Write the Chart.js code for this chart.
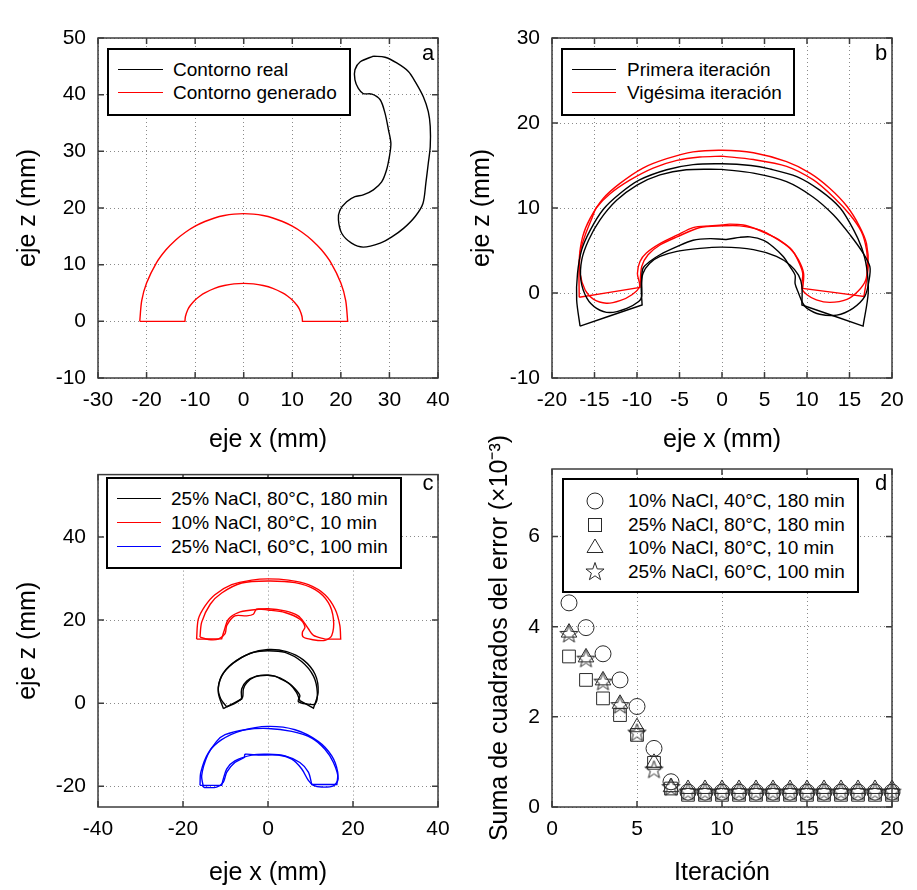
<!DOCTYPE html>
<html lang="es">
<head>
<meta charset="UTF-8">
<title>Contornos y error por iteración</title>
<script src="https://cdn.jsdelivr.net/npm/chart.js"></script>
<style>
    body {
        margin: 0;
        background: #fff;
        font-family: 'Liberation Sans', Arial, sans-serif;
    }
    #fig {
        position: relative;
        width: 917px;
        height: 890px;
        overflow: hidden;
    }
    canvas {
        position: absolute;
    }
    .legend {
        position: absolute;
        box-sizing: border-box;
        border: 2px solid #000;
        background: #fff;
    }
    .legend .sw {
        position: absolute;
        height: 0;
        border-top: 1.5px solid;
    }
    .legend .tx {
        position: absolute;
        font-size: 19px;
        line-height: 22px;
        white-space: nowrap;
        color: #000;
    }
    .legend svg {
        position: absolute;
    }
    .letter {
        position: absolute;
        font-size: 22px;
        line-height: 22px;
        transform: translate(-50%, -50%);
    }
</style>
</head>
<body>
<div id="fig">
    <canvas id="cA" width="460" height="455" style="left:0;top:0"></canvas>
    <canvas id="cB" width="457" height="455" style="left:460px;top:0"></canvas>
    <canvas id="cC" width="460" height="440" style="left:0;top:450px"></canvas>
    <canvas id="cD" width="457" height="470" style="left:460px;top:420px"></canvas>
    <div class="letter" style="left:428px;top:53px">a</div>
    <div class="letter" style="left:881px;top:53px">b</div>
    <div class="letter" style="left:428px;top:483px">c</div>
    <div class="letter" style="left:881px;top:483px">d</div>
</div>
<script>
// ---- a: contorno real vs generado ----
const aTicksX = [-30, -20, -10, 0, 10, 20, 30, 40];
const aTicksZ = [-10, 0, 10, 20, 30, 40, 50];
const aLabels = ['Contorno real', 'Contorno generado'];
const aRealX = [26.7, 29.1, 31.5, 33.9, 35.3, 37.0, 38.0, 38.4, 38.4, 38.0, 37.5, 36.9, 35.3, 32.9, 30.5, 28.1, 24.6, 22.2, 20.2, 19.5,
                19.8, 21.2, 22.9, 24.6, 26.7, 28.4, 29.4, 30.0, 30.3, 29.8, 29.1, 28.1, 26.4, 24.6, 23.6, 22.9, 22.9, 24.0, 26.7];
const aRealZ = [46.8, 46.6, 45.6, 44.1, 42.3, 39.6, 37.0, 34.4, 30.8, 27.9, 24.4, 20.8, 18.5, 16.4, 14.9, 13.8, 13.1, 13.8, 15.5, 17.9,
                19.6, 21.1, 22.0, 22.3, 23.2, 24.6, 26.7, 29.1, 31.4, 33.8, 36.7, 39.1, 40.1, 40.2, 41.1, 42.6, 44.4, 45.8, 46.8];
const aGenX = [-21.4, -21.4, -21, -20, -18, -16, -14, -12, -10, -8, -6, -4, -2, 0, 2, 4, 6, 8, 10, 12, 14, 16, 18, 20, 21, 21.4, 21.4,
               12.1, 12.1, 12, 11.5, 11, 10, 9, 8, 6, 4, 2, 0, -2, -4, -6, -8, -9, -10, -11, -11.5, -12, -12.1, -12.1, -21.4];
const aGenZ = [0, 0, 3.66, 6.76, 10.28, 12.62, 14.37, 15.73, 16.80, 17.62, 18.24, 18.67, 18.92, 19, 18.92, 18.67, 18.24, 17.62, 16.80,
               15.73, 14.37, 12.62, 10.28, 6.76, 3.66, 0, 0, 0, 0, 0.86, 2.08, 2.79, 3.77, 4.48, 5.03, 5.82, 6.32, 6.61, 6.7, 6.61,
               6.32, 5.82, 5.03, 4.48, 3.77, 2.79, 2.08, 0.86, 0, 0, 0];

// ---- b: primera y vigésima iteración ----
const bTicksX = [-20, -15, -10, -5, 0, 5, 10, 15, 20];
const bTicksZ = [-10, 0, 10, 20, 30];
const bLabels = ['Primera iteración', 'Vigésima iteración'];
const bGen1X = [-16.7, -16.7, -17.1, -17.0, -16.5, -15.5, -14.0, -12.0, -9.7, -6.5, -3.4, 0, 3.4, 5.6, 8.8, 11.5, 13.9, 15.5, 16.4, 17.0,
                17.2, 16.6, 16.6, 9.4, 9.4, 9.4, 9.0, 8.0, 6.4, 3.7, 0, -2.6, -5.3, -7.3, -8.5, -9.3, -9.5, -9.4, -9.4, -16.7];
const bGen1Z = [-3.9, -3.9, -0.8, 2.3, 5.1, 7.4, 9.8, 11.7, 13.3, 14.5, 15.1, 15.2, 15.0, 14.6, 13.7, 12.1, 10.0, 7.4, 5.4, 3.1,
                0.0, -3.9, -3.9, -1.4, -1.4, 0.8, 2.1, 3.3, 4.3, 5.1, 5.4, 5.25, 4.9, 4.3, 3.5, 2.3, 0.8, -1.4, -1.4, -3.9];
const bReal1X = [0, 3.7, 7.6, 10.7, 13.1, 15.1, 16.6, 17.4, 17.3, 16.8, 15.4, 13.5, 11.5, 10.0, 9.5, 9.0, 8.6, 8.6, 8.0, 7.2, 6.0, 4.9,
                 3.3, 2.1, 0.5, -1.4, -3.4, -5.3, -7.3, -8.5, -9.3, -9.45, -9.45, -9.8, -11.2, -13.2, -14.75, -15.9, -16.6, -16.5,
                 -15.7, -14.35, -12.4, -10.0, -7.3, -4.2, 0];
const bReal1Z = [14.55, 14.1, 13.1, 11.3, 9.2, 6.8, 4.7, 3.1, 1.5, -0.4, -1.8, -2.6, -2.5, -1.8, -1.2, 0.0, 1.1, 2.1, 3.1, 4.3, 5.45,
                 6.2, 6.6, 6.55, 6.3, 6.4, 6.2, 5.45, 4.5, 3.7, 2.9, 1.5, -0.4, -1.0, -1.8, -2.3, -1.8, -0.6, 1.5, 3.9, 6.2, 8.6,
                 10.9, 12.7, 13.9, 14.5, 14.55];
const bGen20X = [-16.8, -16.8, -16.8, -16.4, -15.5, -14.0, -12.0, -9.3, -6.5, -3.4, 0, 3.7, 7.6, 10.35, 12.7, 14.7, 16.2, 17.0, 17.2,
                 16.7, 16.7, 9.5, 9.5, 9.6, 9.0, 8.0, 6.4, 4.5, 2.1, 0, -2.6, -5.3, -7.3, -8.7, -9.45, -9.65, -9.65, -16.8];
const bGen20Z = [-0.5, -0.5, 3.9, 6.6, 8.8, 11.1, 12.9, 14.7, 15.8, 16.6, 16.8, 16.5, 15.45, 14.1, 12.3, 10.2, 7.8, 5.8, 3.1,
                 -0.4, -0.4, 0.55, 0.55, 2.3, 3.9, 5.25, 6.4, 7.4, 7.9, 7.9, 7.7, 6.6, 5.65, 4.5, 3.1, 0.65, 0.65, -0.5];
const bReal20X = [0, 3.7, 7.6, 10.75, 13.1, 15.06, 16.4, 17.0, 17.1, 16.9, 16.0, 14.7, 12.7, 11.1, 10.0, 9.4, 9.5, 9.0, 8.2, 6.8,
                  5.65, 4.1, 2.5, 0.9, 0, -1.4, -3.4, -5.3, -7.3, -8.9, -9.65, -9.95, -9.7, -10.6, -12.0, -13.6, -15.1, -16.1,
                  -16.7, -16.7, -16.1, -15.3, -14.8, -13.2, -10.8, -8.1, -5.3, -2.6, 0];
const bReal20Z = [16.1, 15.7, 14.9, 13.3, 11.3, 9.2, 7.2, 5.1, 3.1, 1.5, 0.2, -0.75, -1.1, -0.8, -0.2, 0.55, 2.3, 3.7, 5.1, 6.2,
                  6.8, 7.5, 8.0, 8.1, 8.0, 7.9, 7.7, 6.8, 5.8, 4.7, 3.7, 2.3, 0.75, -0.2, -0.9, -1.2, -0.75, 0.35, 2.3, 4.7,
                  6.8, 8.8, 10.0, 11.65, 13.3, 14.7, 15.6, 16.0, 16.1];

// ---- c: tres tratamientos ----
const cTicksX = [-40, -20, 0, 20, 40];
const cTicksZ = [-20, 0, 20, 40];
const cLabels = ['25% NaCl, 80°C, 180 min', '10% NaCl, 80°C, 10 min', '25% NaCl, 60°C, 100 min'];
const cRedAX = [-16.8, -16.8, -16.4, -14.8, -12.5, -8.55, -3.84, 0, 4.8, 9.5, 13.4, 15.8, 16.9, 17.1, 17.1, 13.4, 13.4, 10.7, 9.5,
                8.7, 7.1, 4.0, 0, -3.8, -7.0, -9.3, -10.3, -10.9, -10.9, -16.8];
const cRedAZ = [15.4, 15.4, 20.2, 23.4, 26.1, 28.5, 29.6, 29.9, 29.6, 28.5, 26.1, 22.6, 18.7, 15.4, 15.4, 15.4, 15.4, 16.3, 17.9,
                19.1, 21.0, 22.2, 22.7, 22.4, 21.8, 20.2, 17.5, 15.5, 15.5, 15.4];
const cRedBX = [-16.0, -15.6, -13.6, -10.9, -6.2, 0, 6.35, 11.1, 14.2, 15.4, 15.0, 13.4, 10.3, 8.3, 8.1, 8.7, 7.5, 4.0, 0, -2.7,
                -3.45, -5.0, -7.8, -9.7, -10.1, -11.7, -14.0, -16.0];
const cRedBZ = [15.9, 19.5, 23.8, 26.5, 28.9, 29.4, 29.0, 27.3, 24.2, 20.2, 16.3, 15.1, 15.3, 15.9, 17.1, 18.3, 20.2, 21.8, 22.4,
                22.6, 21.4, 21.0, 21.0, 18.7, 16.7, 15.4, 15.3, 15.9];
const cBlkAX = [-10.5, -10.5, -11.7, -10.9, -8.2, -4.2, 0, 4.4, 8.3, 11.1, 11.8, 10.7, 10.7, 7.5, 7.5, 6.7, 5.2, 2.8, 0, -2.7,
                -5.0, -6.2, -6.2, -6.2, -10.5];
const cBlkAZ = [-1.3, -1.3, 2.6, 6.5, 9.6, 12.0, 12.9, 12.4, 10.4, 6.9, 2.6, -1.2, -1.2, 0.6, 0.6, 2.6, 4.5, 6.1, 6.7, 6.5,
                5.3, 3.4, 1.0, 1.0, -1.3];
const cBlkBX = [-9.7, -11.1, -11.7, -10.5, -7.4, -3.45, 0, 4.0, 7.9, 10.7, 11.6, 11.1, 9.1, 7.1, 7.5, 6.4, 4.8, 2.8, 1.6, -0.3,
                -3.1, -5.0, -5.8, -6.0, -7.4, -9.7];
const cBlkBZ = [-0.9, 1.0, 3.8, 7.3, 10.3, 12.2, 12.6, 12.2, 10.0, 6.5, 2.6, -0.2, -0.2, 0.4, 1.8, 3.4, 4.9, 5.9, 6.5, 6.7,
                6.3, 4.9, 3.4, 1.4, 0.2, -0.9];
const cBluAX = [-16.0, -16.0, -15.8, -14.0, -10.9, -6.2, 0, 6.35, 11.8, 15.0, 16.4, 16.2, 16.2, 10.3, 10.3, 9.5, 7.5, 4.0, 0,
                -3.8, -7.8, -9.7, -10.5, -10.9, -10.9, -16.0];
const cBluAZ = [-19.8, -19.8, -16.6, -11.9, -8.8, -6.6, -5.6, -6.4, -9.2, -12.7, -16.6, -19.6, -19.6, -19.6, -19.6, -16.6, -14.3,
                -12.7, -12.3, -12.5, -13.9, -15.8, -18.2, -19.8, -19.8, -19.8];
const cBluBX = [-15.2, -15.6, -14.2, -12.1, -10.1, -5.4, 0, 5.6, 10.3, 13.4, 15.4, 16.5, 15.4, 12.6, 10.7, 9.5, 7.9, 5.6, 2.4,
                -2.3, -5.4, -5.6, -7.8, -9.7, -10.5, -12.1, -14.8, -15.2];
const cBluBZ = [-20.2, -17.4, -12.5, -9.2, -7.6, -6.4, -6.1, -6.8, -8.4, -11.1, -14.3, -18.2, -19.9, -20.2, -19.8, -18.6, -15.8,
                -13.5, -12.5, -12.5, -12.3, -13.1, -14.3, -16.6, -19.0, -20.2, -20.3, -20.2];

// ---- d: suma de cuadrados del error (x10^-3) ----
const dTicksX = [0, 5, 10, 15, 20];
const dTicksY = [0, 2, 4, 6];
const dLabels = ['10% NaCl, 40°C, 180 min', '25% NaCl, 80°C, 180 min', '10% NaCl, 80°C, 10 min', '25% NaCl, 60°C, 100 min'];
const iteraciones = [1, 2, 3, 4, 5, 6, 7, 8, 9, 10, 11, 12, 13, 14, 15, 16, 17, 18, 19, 20];
const dCirculo   = [4.53, 3.98, 3.40, 2.82, 2.23, 1.30, 0.56, 0.33, 0.33, 0.33, 0.33, 0.33, 0.33, 0.33, 0.33, 0.33, 0.33, 0.33, 0.33, 0.33];
const dCuadrado  = [3.34, 2.82, 2.41, 2.04, 1.60, 0.98, 0.41, 0.27, 0.27, 0.27, 0.27, 0.27, 0.27, 0.27, 0.27, 0.27, 0.27, 0.27, 0.27, 0.27];
const dTriangulo = [3.87, 3.32, 2.81, 2.29, 1.77, 0.98, 0.44, 0.40, 0.40, 0.40, 0.40, 0.40, 0.40, 0.40, 0.40, 0.40, 0.40, 0.40, 0.40, 0.40];
const dEstrella  = [3.83, 3.28, 2.77, 2.25, 1.64, 0.82, 0.43, 0.33, 0.33, 0.33, 0.33, 0.33, 0.33, 0.33, 0.33, 0.33, 0.33, 0.33, 0.33, 0.33];

const NEGRO = '#000000', ROJO = '#ff0000', AZUL = '#0000ff', GRIS = '#2a2a2a';

Chart.defaults.font.family = "'Liberation Sans', Arial, sans-serif";
Chart.defaults.color = '#000';

function pts(xs, ys) {
    return xs.map((x, i) => ({ x: x, y: ys[i] }));
}

function contorno(xs, ys, color) {
    return { data: pts(xs, ys), showLine: true, borderColor: color, borderWidth: 1.4,
             pointRadius: 0, tension: 0.3, fill: false };
}

// 5-point star drawn once, used as pointStyle
function estrella(r, color) {
    const c = document.createElement('canvas');
    const s = Math.ceil(2 * r + 4);
    c.width = c.height = s;
    const g = c.getContext('2d');
    g.strokeStyle = color;
    g.lineWidth = 1;
    g.beginPath();
    for (let i = 0; i < 10; i++) {
        const rad = i % 2 ? r * 0.4 : r;
        const ang = -Math.PI / 2 + i * Math.PI / 5;
        const px = s / 2 + rad * Math.cos(ang), py = s / 2 + rad * Math.sin(ang);
        if (i) g.lineTo(px, py); else g.moveTo(px, py);
    }
    g.closePath();
    g.stroke();
    return c;
}

function marcador(ys, style, radius) {
    return { data: pts(iteraciones, ys), showLine: false, pointStyle: style, pointRadius: radius,
             pointBorderColor: GRIS, pointBackgroundColor: 'rgba(0,0,0,0)', pointBorderWidth: 1, clip: false };
}

function eje(min, max, ticks, title, pos, size, tickPad, titlePad) {
    return {
        type: 'linear', position: pos, min: min, max: max,
        afterBuildTicks: s => { s.ticks = ticks.map(v => ({ value: v })); },
        afterFit: s => { if (pos === 'left') s.width = size; else s.height = size; },
        ticks: { color: '#000', font: { size: 21 }, padding: tickPad, maxRotation: 0, autoSkip: false },
        grid: { color: '#8a8a8a', lineWidth: 1, drawTicks: false },
        border: { display: false, dash: [1, 3] },
        title: { display: true, text: title, color: '#000', font: { size: 25 }, padding: titlePad }
    };
}

// frame round the plot area, ticks pointing inward on all four sides
const marco = {
    id: 'marco',
    afterDatasetsDraw(chart) {
        const { ctx, chartArea: a, scales } = chart;
        ctx.save();
        ctx.strokeStyle = '#3c3c3c';
        ctx.lineWidth = 1.5;
        ctx.beginPath();
        scales.x.ticks.forEach(t => {
            const px = scales.x.getPixelForValue(t.value);
            ctx.moveTo(px, a.bottom); ctx.lineTo(px, a.bottom - 6);
            ctx.moveTo(px, a.top); ctx.lineTo(px, a.top + 6);
        });
        scales.y.ticks.forEach(t => {
            const py = scales.y.getPixelForValue(t.value);
            ctx.moveTo(a.left, py); ctx.lineTo(a.left + 6, py);
            ctx.moveTo(a.right, py); ctx.lineTo(a.right - 6, py);
        });
        ctx.stroke();
        ctx.strokeRect(a.left, a.top, a.right - a.left, a.bottom - a.top);
        ctx.restore();
    }
};

function grafico(id, datasets, x, y, pad) {
    return new Chart(document.getElementById(id), {
        type: 'scatter',
        data: { datasets: datasets },
        options: {
            responsive: false,
            animation: false,
            devicePixelRatio: 1,
            layout: { padding: pad },
            scales: { x: x, y: y },
            plugins: { legend: { display: false }, tooltip: { enabled: false } }
        },
        plugins: [marco]
    });
}

const fig = document.getElementById('fig');

// HTML legend box: box = [left, top, right, bottom], rows start at y0 every dy
function leyenda(box, y0, dy, sw, txX, items) {
    const el = document.createElement('div');
    el.className = 'legend';
    el.style.left = box[0] + 'px';
    el.style.top = box[1] + 'px';
    el.style.width = (box[2] - box[0]) + 'px';
    el.style.height = (box[3] - box[1]) + 'px';
    items.forEach((it, i) => {
        const cy = y0 + i * dy - box[1] - 2;
        if (it.svg) {
            const s = document.createElementNS('http://www.w3.org/2000/svg', 'svg');
            s.setAttribute('width', 24); s.setAttribute('height', 24);
            s.style.left = (sw[0] - box[0] - 2 - 12) + 'px';
            s.style.top = (cy - 12) + 'px';
            s.innerHTML = it.svg;
            el.appendChild(s);
        } else {
            const l = document.createElement('span');
            l.className = 'sw';
            l.style.left = (sw[0] - box[0] - 2) + 'px';
            l.style.width = (sw[1] - sw[0]) + 'px';
            l.style.top = (cy - 0.75) + 'px';
            l.style.borderColor = it.color;
            el.appendChild(l);
        }
        const t = document.createElement('span');
        t.className = 'tx';
        t.textContent = it.label;
        t.style.left = (txX - box[0] - 2) + 'px';
        t.style.top = (cy - 11) + 'px';
        el.appendChild(t);
    });
    fig.appendChild(el);
}

// a
grafico('cA', [
    contorno(aRealX, aRealZ, NEGRO),
    contorno(aGenX, aGenZ, ROJO)
], eje(-30, 40, aTicksX, 'eje x (mm)', 'bottom', 77, 10, { top: 0, bottom: 0 }),
   eje(-10, 50, aTicksZ, 'eje z (mm)', 'left', 98, 12, { top: 13.5, bottom: 0 }),
   { left: 0, top: 38, right: 22, bottom: 0 });

// b
grafico('cB', [
    contorno(bGen1X, bGen1Z, NEGRO),
    contorno(bReal1X, bReal1Z, NEGRO),
    contorno(bGen20X, bGen20Z, ROJO),
    contorno(bReal20X, bReal20Z, ROJO)
], eje(-20, 20, bTicksX, 'eje x (mm)', 'bottom', 77, 10, { top: 0, bottom: 0 }),
   eje(-10, 30, bTicksZ, 'eje z (mm)', 'left', 92, 12, { top: 7, bottom: 0 }),
   { left: 0, top: 38, right: 25, bottom: 0 });

// c
grafico('cC', [
    contorno(cBlkAX, cBlkAZ, NEGRO),
    contorno(cBlkBX, cBlkBZ, NEGRO),
    contorno(cRedAX, cRedAZ, ROJO),
    contorno(cRedBX, cRedBZ, ROJO),
    contorno(cBluAX, cBluAZ, AZUL),
    contorno(cBluBX, cBluBZ, AZUL)
], eje(-40, 40, cTicksX, 'eje x (mm)', 'bottom', 83, 10, { top: 0, bottom: 2 }),
   eje(-25, 55, cTicksZ, 'eje z (mm)', 'left', 98, 12, { top: 13.5, bottom: 0 }),
   { left: 0, top: 19, right: 22, bottom: 0 });

// d
const star = estrella(9.5, GRIS);
grafico('cD', [
    marcador(dCirculo, 'circle', 8),
    marcador(dCuadrado, 'rect', 9),
    marcador(dTriangulo, 'triangle', 9),
    marcador(dEstrella, star, 9)
], eje(0, 20, dTicksX, 'Iteración', 'bottom', 83, 10, { top: 0, bottom: 2 }),
   eje(0, 7.5, dTicksY, 'Suma de cuadrados del error (×10⁻³)', 'left', 92, 12, { top: 25, bottom: 0 }),
   { left: 0, top: 49, right: 25, bottom: 0 });

leyenda([107, 48, 351, 116], 70, 23, [118, 163], 173,
        aLabels.map((l, i) => ({ label: l, color: [NEGRO, ROJO][i] })));
leyenda([561, 48, 795, 116], 70, 23, [572, 616], 627,
        bLabels.map((l, i) => ({ label: l, color: [NEGRO, ROJO][i] })));
leyenda([106, 477, 402, 569], 499, 24, [117, 161], 171,
        cLabels.map((l, i) => ({ label: l, color: [NEGRO, ROJO, AZUL][i] })));

const starPts = [];
for (let i = 0; i < 10; i++) {
    const r = i % 2 ? 3.8 : 9.5, ang = -Math.PI / 2 + i * Math.PI / 5;
    starPts.push((12 + r * Math.cos(ang)).toFixed(2) + ',' + (12 + r * Math.sin(ang)).toFixed(2));
}
const trazo = 'fill="none" stroke="' + GRIS + '" stroke-width="1"';
const iconos = [
    '<circle cx="12" cy="12" r="8" ' + trazo + '/>',
    '<rect x="5.5" y="5.5" width="13" height="13" ' + trazo + '/>',
    '<polygon points="12,3 20,16.5 4,16.5" ' + trazo + '/>',
    '<polygon points="' + starPts.join(' ') + '" ' + trazo + '/>'
];
leyenda([562, 478, 859, 593], 501, 23.7, [595, 595], 628,
        dLabels.map((l, i) => ({ label: l, svg: iconos[i] })));
</script>
</body>
</html>
